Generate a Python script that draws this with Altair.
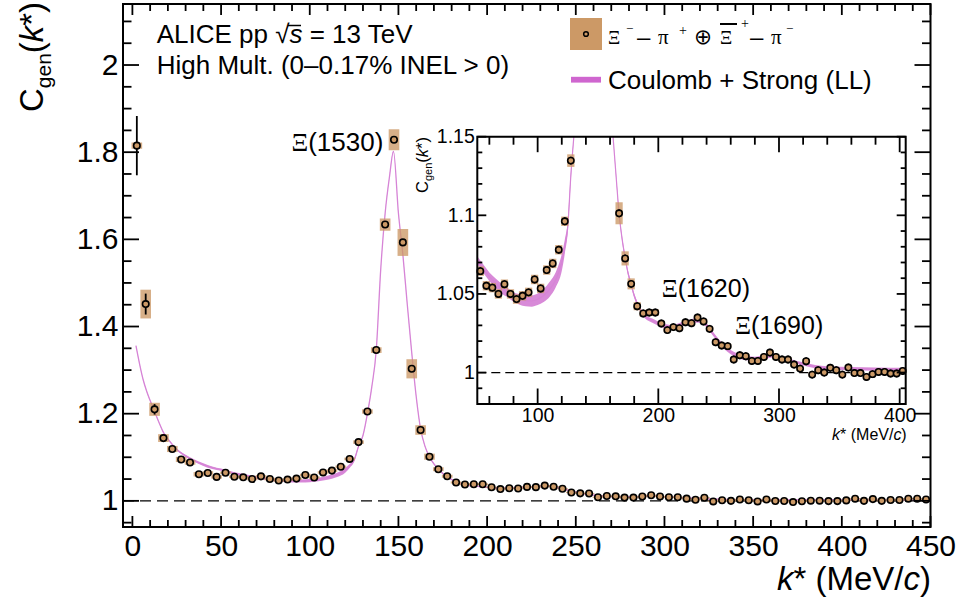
import altair as alt
import pandas as pd

# ---------------- data ----------------
BIN_WIDTH = 5.0
C_GEN = [1.815, 1.4515, 1.210, 1.144, 1.119, 1.095, 1.088, 1.061, 1.064, 1.055,
         1.0645, 1.0552, 1.054, 1.050, 1.0562, 1.050, 1.0467, 1.0488, 1.051, 1.0592,
         1.0535, 1.0652, 1.0694, 1.0781, 1.0962, 1.1348, 1.205, 1.346, 1.634, 1.8285,
         1.593, 1.303, 1.1625, 1.1013, 1.0726, 1.0564, 1.0422, 1.0376, 1.0382, 1.0382,
         1.0312, 1.027, 1.0289, 1.0282, 1.032, 1.0314, 1.035, 1.0325, 1.0278, 1.0193,
         1.0172, 1.0168, 1.0083, 1.011, 1.0104, 1.0074, 1.0074, 1.0099, 1.0127, 1.0099,
         1.0083, 1.0083, 1.0051, 1.0025, 1.0072, 0.9987, 1.0015, 1.000, 1.003, 1.0015,
         0.9987, 1.0032, 0.9997, 0.9997, 0.9972, 0.999, 1.0004, 1.0004, 0.9994, 0.9994,
         1.001, 1.005, 1.000, 1.004, 1.000, 1.002, 1.002, 1.005, 1.005, 1.003]
STAT = [0.068, 0.024, 0.012, 0.008, 0.006, 0.005, 0.004, 0.004, 0.004, 0.004,
        0.0025, 0.0025, 0.0025, 0.0025, 0.0025, 0.0025, 0.0025, 0.0025, 0.0025, 0.0025,
        0.0025, 0.0025, 0.0025, 0.0025, 0.0025, 0.0025, 0.003, 0.003, 0.004, 0.004,
        0.004, 0.003, 0.003, 0.0025, 0.0025, 0.0025, 0.0025, 0.0025, 0.0025, 0.0025,
        0.0025, 0.0025, 0.0025, 0.0025, 0.0025, 0.0025, 0.0025, 0.0025, 0.0025, 0.0025,
        0.0025, 0.0025, 0.0025, 0.0025, 0.0025, 0.0025, 0.0025, 0.0025, 0.0025, 0.0025,
        0.0025, 0.0025, 0.0025, 0.0025, 0.0025, 0.0025, 0.0025, 0.0025, 0.0025, 0.0025,
        0.0025, 0.0025, 0.0025, 0.0025, 0.0025, 0.0025, 0.0025, 0.0025, 0.0025, 0.0025,
        0.0025, 0.0025, 0.0025, 0.0025, 0.0025, 0.0025, 0.0025, 0.0025, 0.0025, 0.0025]
SYS = [0.007, 0.033, 0.015, 0.009, 0.007, 0.006, 0.005, 0.005, 0.004, 0.004,
       0.003, 0.003, 0.003, 0.003, 0.003, 0.003, 0.003, 0.003, 0.003, 0.003,
       0.003, 0.003, 0.003, 0.003, 0.003, 0.004, 0.005, 0.0065, 0.014, 0.024,
       0.031, 0.022, 0.011, 0.007, 0.0045, 0.0035, 0.0025, 0.002, 0.002, 0.002,
       0.0015, 0.0015, 0.0015, 0.0015, 0.0015, 0.0015, 0.0015, 0.0015, 0.0015, 0.0015,
       0.0015, 0.0015, 0.0015, 0.0015, 0.0015, 0.0015, 0.0015, 0.0015, 0.0015, 0.0015,
       0.0015, 0.0015, 0.0015, 0.0015, 0.0015, 0.0015, 0.0015, 0.0015, 0.0015, 0.0015,
       0.0015, 0.0015, 0.0015, 0.0015, 0.0015, 0.0015, 0.0015, 0.0015, 0.0015, 0.0015,
       0.0015, 0.0015, 0.0015, 0.0015, 0.0015, 0.0015, 0.0015, 0.0015, 0.0015, 0.0015]
K_STAR = [BIN_WIDTH * (i + 0.5) for i in range(len(C_GEN))]  # bin centres

K_MODEL = [2, 4, 6, 8, 10, 12.5, 15, 17.5, 20, 25, 30, 35, 40, 45, 50, 55, 60, 65, 70, 75,
           80, 85, 90, 95, 100, 105, 110, 115, 120, 122.5, 125, 127.5, 130, 132.5, 135,
           137.5, 140, 142.5, 145, 147.2, 150, 152.5, 155, 157.5, 160, 162.5, 165, 167.5,
           170, 172.5, 175, 177.5, 180, 185, 190, 195, 200, 205, 210, 215, 220, 225, 230,
           235, 240, 245, 250, 255, 260, 265, 270, 280, 290, 295, 300, 310, 320, 330, 340,
           360, 380, 405, 420, 450]
MODEL_MID = [1.356, 1.315, 1.279, 1.252, 1.230, 1.205, 1.180, 1.157, 1.142, 1.118, 1.103,
             1.092, 1.083, 1.076, 1.0715, 1.066, 1.061, 1.057, 1.0535, 1.051, 1.048, 1.0465,
             1.0457, 1.0455, 1.0466, 1.049, 1.053, 1.059, 1.070, 1.080, 1.093, 1.125, 1.150,
             1.200, 1.262, 1.346, 1.530, 1.660, 1.745, 1.802, 1.660, 1.565, 1.450, 1.340,
             1.240, 1.165, 1.125, 1.101, 1.085, 1.073, 1.063, 1.056, 1.049, 1.040, 1.035,
             1.033, 1.031, 1.0295, 1.029, 1.0295, 1.031, 1.032, 1.033, 1.033, 1.030, 1.025,
             1.020, 1.016, 1.013, 1.011, 1.0095, 1.0088, 1.0102, 1.0108, 1.0095, 1.0075,
             1.0055, 1.0038, 1.003, 1.0025, 1.0022, 1.002, 1.0018, 1.0016]
MODEL_HALF = [0.0012, 0.0012, 0.0012, 0.0012, 0.0012, 0.0012, 0.0012, 0.0012, 0.0015, 0.002,
              0.0025, 0.003, 0.003, 0.003, 0.0025, 0.0027, 0.0027, 0.003, 0.0032, 0.003,
              0.003, 0.0033, 0.0035, 0.0036, 0.0037, 0.0042, 0.0048, 0.0048, 0.0054, 0.0045,
              0.0035, 0.0025, 0.0015, 0.0015, 0.0015, 0.0015, 0.0015, 0.0015, 0.0015, 0.0015,
              0.0015, 0.0015, 0.0015, 0.0015, 0.0015, 0.0015, 0.0015, 0.0015, 0.0015, 0.0015,
              0.0015, 0.0015, 0.0015, 0.0013, 0.0013, 0.0013, 0.0013, 0.0013, 0.0013, 0.0013,
              0.0013, 0.0013, 0.0013, 0.0013, 0.0013, 0.0013, 0.0013, 0.0013, 0.0013, 0.0013,
              0.0013, 0.0013, 0.0013, 0.0013, 0.0013, 0.001, 0.001, 0.001, 0.001, 0.001,
              0.001, 0.001, 0.001, 0.001]

MAIN_X_MAJOR = [0, 50, 100, 150, 200, 250, 300, 350, 400, 450]
MAIN_X_MINOR = [10, 20, 30, 40, 60, 70, 80, 90, 110, 120, 130, 140, 160, 170, 180, 190,
                210, 220, 230, 240, 260, 270, 280, 290, 310, 320, 330, 340, 360, 370, 380,
                390, 410, 420, 430, 440]
MAIN_Y_MAJOR = [1.0, 1.2, 1.4, 1.6, 1.8, 2.0]
MAIN_Y_MINOR = [0.95, 1.05, 1.1, 1.15, 1.25, 1.3, 1.35, 1.45, 1.5, 1.55, 1.65, 1.7, 1.75,
                1.85, 1.9, 1.95, 2.05, 2.1]
INSET_X_MAJOR = [100, 200, 300, 400]
INSET_X_MINOR = [60, 80, 120, 140, 160, 180, 220, 240, 260, 280, 320, 340, 360, 380]
INSET_Y_MAJOR = [1.0, 1.05, 1.1, 1.15]
INSET_Y_MINOR = [0.99, 1.01, 1.02, 1.03, 1.04, 1.06, 1.07, 1.08, 1.09, 1.11, 1.12, 1.13, 1.14]

# ---------------- layout constants ----------------
PL, PT = 123, 4          # plot-area origin on the page
W, H = 807.5, 523        # main plot area
IX0, IX1 = 354.3, 782.7  # inset x pixel range (plot coords)
IY0, IY1 = 400.0, 132.7  # inset y pixel range (bottom, top)
BOX_HW = 3.0             # half width of systematic boxes (MeV/c)
FONT = "Liberation Sans"
SERIF = "Liberation Serif"
BOX = "#CC9966"
MODEL = "#D684D6"
LEG_LINE = "#CF66CF"

pts = pd.DataFrame({"k": K_STAR, "c": C_GEN, "stat": STAT, "sys": SYS})
pts["e0"] = pts.c - pts.stat
pts["e1"] = pts.c + pts.stat
pts["b0"] = pts.c - pts.sys
pts["b1"] = pts.c + pts.sys
pts["bx0"] = pts.k - BOX_HW
pts["bx1"] = pts.k + BOX_HW

mod = pd.DataFrame({"k": K_MODEL, "mid": MODEL_MID, "half": MODEL_HALF})
mod["lo"] = mod.mid - mod.half
mod["hi"] = mod.mid + mod.half
mod["seg"] = (mod.k > 140).astype(int)

ins_pts = pts[(pts.k > 50) & (pts.k < 405) & (pts.c < 1.15)]
ins_mod = mod[(mod.k >= 50) & (mod.k <= 405) & (mod.mid < 1.17)]

ONE = pd.DataFrame({"a": [0]})

# ---------------- scales / axes ----------------
SX = alt.Scale(domain=[-5.3, 450], nice=False, zero=False)
SY = alt.Scale(domain=[0.94, 2.14], nice=False, zero=False)
AX = alt.Axis(values=MAIN_X_MAJOR, ticks=False, domain=False, grid=False, labelFont=FONT,
              labelFontSize=30, labelPadding=4, labelColor="black", labelFlush=False,
              labelOverlap=False, title=None)
AY = alt.Axis(values=MAIN_Y_MAJOR, ticks=False, domain=False, grid=False, labelFont=FONT,
              labelFontSize=30, labelPadding=5, labelColor="black", labelFlush=False,
              labelOverlap=False, title=None, format="~g")
ISX = alt.Scale(domain=[50, 405], range=[IX0, IX1], nice=False, zero=False, clamp=True)
ISY = alt.Scale(domain=[0.98, 1.15], range=[IY0, IY1], nice=False, zero=False, clamp=True)
IAX = alt.Axis(values=INSET_X_MAJOR, orient="bottom", offset=-(H - IY0), ticks=False,
               domain=False, grid=False, labelFont=FONT, labelFontSize=19.5, labelPadding=2,
               labelColor="black", labelFlush=False, labelOverlap=False, title=None)
IAY = alt.Axis(values=INSET_Y_MAJOR, orient="left", offset=-IX0, ticks=False, domain=False,
               grid=False, labelFont=FONT, labelFontSize=19.5, labelPadding=3,
               labelColor="black", labelFlush=False, labelOverlap=False, title=None,
               format="~g")


def mx(f):
    return alt.X(f, type="quantitative", scale=SX, axis=AX)


def my(f):
    return alt.Y(f, type="quantitative", scale=SY, axis=AY)


def ix(f):
    return alt.X(f, type="quantitative", scale=ISX, axis=IAX)


def iy(f):
    return alt.Y(f, type="quantitative", scale=ISY, axis=IAY)


def label(txt, xa, ya, size, font=FONT, style="normal", align="left",
          baseline="alphabetic", angle=0):
    """Text annotation at absolute page position (xa, ya)."""
    return alt.Chart(ONE).mark_text(
        text=txt, font=font, fontSize=size, fontStyle=style, align=align,
        baseline=baseline, angle=angle, color="black"
    ).encode(x=alt.value(xa - PL), y=alt.value(ya - PT))


def hrule(xa0, xa1, ya, width=1.5, color="black"):
    return alt.Chart(ONE).mark_rule(color=color, strokeWidth=width).encode(
        x=alt.value(xa0 - PL), x2=alt.value(xa1 - PL), y=alt.value(ya - PT))


def xticks(vals, sx, y0, length, down):
    y1 = y0 + length if down else y0 - length
    return alt.Chart(pd.DataFrame({"v": vals})).mark_rule(
        color="black", strokeWidth=1.8).encode(x=sx("v"), y=alt.value(y0), y2=alt.value(y1))


def yticks(vals, sy, x0, length, right):
    x1 = x0 + length if right else x0 - length
    return alt.Chart(pd.DataFrame({"v": vals})).mark_rule(
        color="black", strokeWidth=1.8).encode(y=sy("v"), x=alt.value(x0), x2=alt.value(x1))


# ---------------- main panel ----------------
main_band = alt.Chart(mod).mark_area(color=MODEL, interpolate="monotone", opacity=0.95).encode(
    x=mx("k"), y=my("lo"), y2=alt.Y2("hi"))
main_line = alt.Chart(mod).mark_line(color=MODEL, interpolate="monotone", strokeWidth=1.3).encode(
    x=mx("k"), y=my("mid"))
main_unity = alt.Chart(pd.DataFrame({"x0": [-5.3], "x1": [450], "y": [1.0]})).mark_rule(
    color="black", strokeWidth=1.4, strokeDash=[11, 6]).encode(
    x=mx("x0"), x2=alt.X2("x1"), y=my("y"))
main_box = alt.Chart(pts).mark_rect(color=BOX, opacity=0.78, clip=True).encode(
    x=mx("bx0"), x2=alt.X2("bx1"), y=my("b0"), y2=alt.Y2("b1"))
main_err = alt.Chart(pts).mark_rule(color="black", strokeWidth=1.8).encode(
    x=mx("k"), y=my("e0"), y2=alt.Y2("e1"))
main_pts = alt.Chart(pts).mark_point(shape="circle", filled=True, fill=BOX, stroke="black",
                                     strokeWidth=1.6, size=42, opacity=1).encode(
    x=mx("k"), y=my("c"))
main_frame = alt.Chart(ONE).mark_rect(fillOpacity=0, stroke="black", strokeWidth=2).encode(
    x=alt.value(0), x2=alt.value(W), y=alt.value(0), y2=alt.value(H))
xi1530 = pd.DataFrame({"k": [141.5], "c": [1.802]})
lab1530a = alt.Chart(xi1530).mark_text(text="(1530)", font=FONT, fontSize=26, align="right",
                                       baseline="alphabetic", color="black").encode(
    x=mx("k"), y=my("c"))
lab1530b = alt.Chart(xi1530).mark_text(text="Ξ", font=SERIF, fontSize=26, align="right",
                                       baseline="alphabetic", color="black", dx=-75).encode(
    x=mx("k"), y=my("c"))

main_ticks = [
    xticks(MAIN_X_MAJOR, mx, H, 11, False), xticks(MAIN_X_MINOR, mx, H, 7, False),
    xticks(MAIN_X_MAJOR, mx, 0, 11, True), xticks(MAIN_X_MINOR, mx, 0, 7, True),
    yticks(MAIN_Y_MAJOR, my, 0, 16, True), yticks(MAIN_Y_MINOR, my, 0, 8.5, True),
    yticks(MAIN_Y_MAJOR, my, W, 16, False), yticks(MAIN_Y_MINOR, my, W, 8.5, False),
]

# titles and header texts
texts = [
    # y title  C_gen(k*)
    label("C", 43, 112, 33, angle=270),
    label("gen", 51, 88.2, 21, angle=270),
    label("(", 43, 53.3, 33, angle=270),
    label("k", 43, 42.3, 33, style="italic", angle=270),
    label("*)", 43, 25.8, 33, angle=270),
    # x title  k* (MeV/c)
    label(")", 931, 590, 33, align="right"),
    label("c", 920, 590, 33, style="italic", align="right"),
    label("* (MeV/", 903.5, 590, 33, align="right"),
    label("k", 793.5, 590, 33, style="italic", align="right"),
    # header
    label("ALICE pp √", 156.7, 43.3, 26),
    label("s", 289.5, 43.3, 26, style="italic"),
    label("= 13 TeV", 309.7, 43.3, 26),
    hrule(288, 301, 25.5, 1.5),
    label("High Mult. (0–0.17% INEL > 0)", 156.7, 74, 26),
    # legend entry 1
    label("Ξ", 608, 43.5, 19, font=SERIF),
    label("−", 626, 33, 13, font=SERIF),
    label("–", 637, 45, 24),
    label("π", 658, 43.5, 21, font=SERIF),
    label("+", 679, 35, 14, font=SERIF),
    label("⊕", 694, 43.5, 21.5, font="DejaVu Sans"),
    label("Ξ", 720, 43.5, 19, font=SERIF),
    hrule(720, 737, 24, 2),
    label("+", 741, 28, 14, font=SERIF),
    label("–", 750, 45, 24),
    label("π", 771, 43.5, 21, font=SERIF),
    label("−", 786, 33, 13, font=SERIF),
    # legend entry 2
    label("Coulomb + Strong (LL)", 608, 89.3, 26),
]
leg_box = alt.Chart(ONE).mark_rect(color=BOX).encode(
    x=alt.value(570 - PL), x2=alt.value(602 - PL), y=alt.value(18 - PT), y2=alt.value(50 - PT))
leg_pt = alt.Chart(ONE).mark_point(shape="circle", filled=True, fill=BOX, stroke="black",
                                   strokeWidth=1.5, size=22, opacity=1).encode(
    x=alt.value(586 - PL), y=alt.value(34 - PT))
leg_line = alt.Chart(ONE).mark_rect(color=LEG_LINE).encode(
    x=alt.value(571 - PL), x2=alt.value(601 - PL), y=alt.value(76.8 - PT), y2=alt.value(82.6 - PT))

main = alt.layer(main_band, main_line, main_unity, main_box, main_err, main_pts,
                 *main_ticks, main_frame, lab1530a, lab1530b, leg_box, leg_pt, leg_line,
                 *texts)

# ---------------- inset panel ----------------
ins_band = alt.Chart(ins_mod).mark_area(color=MODEL, interpolate="monotone", opacity=0.95).encode(
    x=ix("k"), y=iy("lo"), y2=alt.Y2("hi"), detail=alt.Detail("seg:N"))
ins_line = alt.Chart(ins_mod).mark_line(color=MODEL, interpolate="monotone", strokeWidth=1.2).encode(
    x=ix("k"), y=iy("mid"), detail=alt.Detail("seg:N"))
ins_unity = alt.Chart(pd.DataFrame({"x0": [50], "x1": [405], "y": [1.0]})).mark_rule(
    color="black", strokeWidth=1.3, strokeDash=[9, 5]).encode(
    x=ix("x0"), x2=alt.X2("x1"), y=iy("y"))
ins_box = alt.Chart(ins_pts).mark_rect(color=BOX, opacity=0.78).encode(
    x=ix("bx0"), x2=alt.X2("bx1"), y=iy("b0"), y2=alt.Y2("b1"))
ins_err = alt.Chart(ins_pts).mark_rule(color="black", strokeWidth=1.6).encode(
    x=ix("k"), y=iy("e0"), y2=alt.Y2("e1"))
ins_ptm = alt.Chart(ins_pts).mark_point(shape="circle", filled=True, fill=BOX, stroke="black",
                                        strokeWidth=1.6, size=40, opacity=1).encode(
    x=ix("k"), y=iy("c"))
ins_frame = alt.Chart(pd.DataFrame({"x0": [50], "x1": [405], "y0": [0.98], "y1": [1.15]})).mark_rect(
    fillOpacity=0, stroke="black", strokeWidth=2).encode(
    x=ix("x0"), x2=alt.X2("x1"), y=iy("y0"), y2=alt.Y2("y1"))
ins_ticks = [
    xticks(INSET_X_MAJOR, ix, IY0, 15.5, False), xticks(INSET_X_MINOR, ix, IY0, 8, False),
    xticks(INSET_X_MAJOR, ix, IY1, 15.5, True), xticks(INSET_X_MINOR, ix, IY1, 8, True),
    yticks(INSET_Y_MAJOR, iy, IX0, 9, True), yticks(INSET_Y_MINOR, iy, IX0, 5, True),
    yticks(INSET_Y_MAJOR, iy, IX1, 9, False), yticks(INSET_Y_MINOR, iy, IX1, 5, False),
]
res = pd.DataFrame({"k": [202.8, 263.5], "c": [1.048, 1.0248], "name": ["(1620)", "(1690)"]})
ins_res_a = alt.Chart(res).mark_text(font=SERIF, fontSize=25, align="left",
                                     baseline="alphabetic", color="black", text="Ξ").encode(
    x=ix("k"), y=iy("c"))
ins_res_b = alt.Chart(res).mark_text(font=FONT, fontSize=25, align="left",
                                     baseline="alphabetic", color="black", dx=16).encode(
    x=ix("k"), y=iy("c"), text="name:N")
ins_texts = [
    label("C", 428, 193, 16.5, angle=270),
    label("gen", 432, 181, 11, angle=270),
    label("(", 428, 162.7, 16.5, angle=270),
    label("k", 428, 157.2, 16.5, style="italic", angle=270),
    label("*)", 428, 148.9, 16.5, angle=270),
    label(")", 906.7, 440, 16, align="right"),
    label("c", 901.4, 440, 16, style="italic", align="right"),
    label("* (MeV/", 893.4, 440, 16, align="right"),
    label("k", 840, 440, 16, style="italic", align="right"),
]
inset = alt.layer(ins_band, ins_line, ins_unity, ins_box, ins_err, ins_ptm, *ins_ticks,
                  ins_frame, ins_res_a, ins_res_b, *ins_texts)

chart = alt.layer(main, inset).resolve_scale(x="independent", y="independent").properties(
    width=W, height=H, autosize="none", background="white",
    padding={"left": PL, "top": PT, "right": 959 - PL - W, "bottom": 600 - PT - H},
).configure_view(strokeWidth=0)

chart.save("out.html", embed_options={"renderer": "svg", "actions": False})
